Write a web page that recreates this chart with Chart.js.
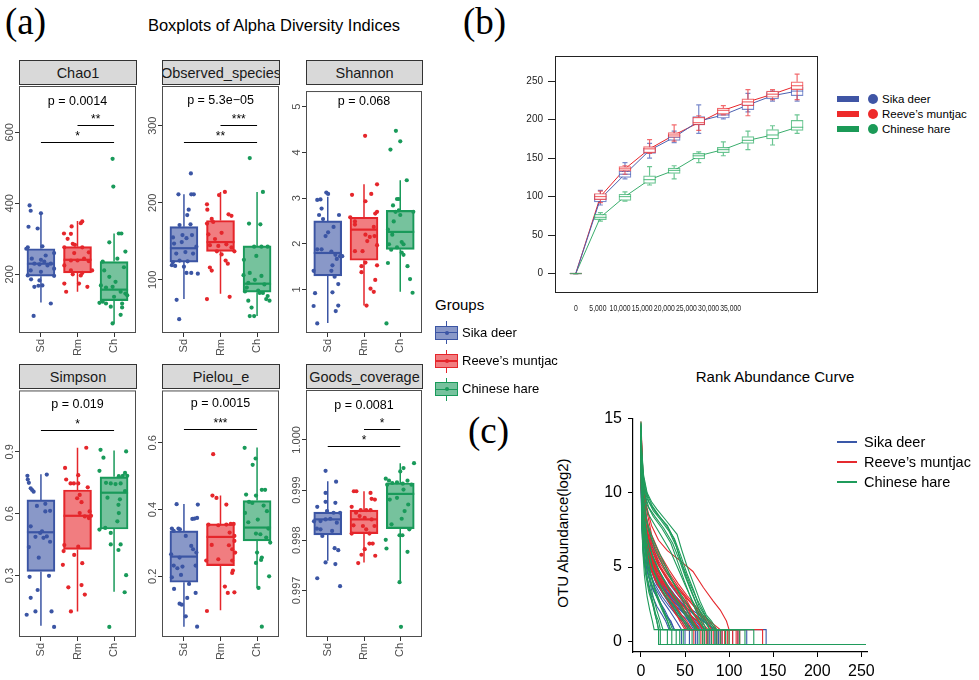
<!DOCTYPE html>
<html>
<head>
<meta charset="utf-8">
<title>Alpha diversity, rarefaction and rank abundance</title>
<script src="https://cdn.jsdelivr.net/npm/chart.js@4.4.1/dist/chart.umd.min.js"></script>
<style>
  html, body { margin: 0; padding: 0; background: #fff; }
  body { position: relative; width: 979px; height: 680px; overflow: hidden;
         font-family: "Liberation Sans", Arial, sans-serif; color: #000; }
  canvas { position: absolute; }
  .txt { position: absolute; white-space: nowrap; }
  .tag { position: absolute; font-family: "Liberation Serif", "Times New Roman", serif;
         font-size: 37px; line-height: 37px; }
  .strip { position: absolute; height: 25px; box-sizing: border-box; background: #d9d9d9;
           border: 1px solid #333; overflow: hidden; white-space: nowrap;
           display: flex; justify-content: center; align-items: center;
           font-size: 14.5px; color: #1a1a1a; }
  .sw { position: absolute; }
</style>
</head>
<body>
<div class="tag" style="left:5px;top:3px">(a)</div>
<div class="tag" style="left:463px;top:3px">(b)</div>
<div class="tag" style="left:468px;top:412px">(c)</div>
<div class="txt" style="left:74px;top:15px;width:400px;text-align:center;font-size:16.5px;line-height:20px">Boxplots of Alpha Diversity Indices</div>
<div class="txt" style="left:435px;top:296px;font-size:15px;line-height:18px">Groups</div>
<div class="txt" style="left:675px;top:368px;width:200px;text-align:center;font-size:15px;line-height:18px">Rank Abundance Curve</div>
<div class="txt" style="left:563px;top:533px;font-size:15px;line-height:18px;transform:translate(-50%,-50%) rotate(-90deg)">OTU Abundance(log2)</div>

<script>
// ---------- shared groups ----------
const groups = ['Sd', 'Rm', 'Ch'];
const groupNames = ['Sika deer', "Reeve\u2019s muntjac", 'Chinese hare'];
const lineColors = ['#3b55a4', '#e5262b', '#199a5a'];
const fillColors = ['rgba(59,83,163,0.6)', 'rgba(232,38,44,0.6)', 'rgba(26,154,91,0.6)'];

// ---------- (a) alpha diversity: per-sample values and horizontal jitter ----------
const chao1Sd  = [394,379,372,334,329,279,276,272,260,253,244,241,236,230,230,228,225,216,211,207,197,196,186,183,168,169,165,118,83];
const chao1SdX = [-0.31,-0.28,0.00,-0.34,-0.09,0.04,-0.36,-0.40,0.36,0.13,-0.25,0.00,0.09,0.27,-0.18,-0.04,0.18,0.36,-0.28,0.00,-0.36,0.36,-0.27,-0.04,-0.07,0.04,-0.18,0.27,-0.20];
const chao1Rm  = [349,344,335,314,315,300,286,283,276,276,262,260,244,239,239,237,225,211,211,204,197,200,174,151,165,174];
const chao1RmX = [0.13,0.09,-0.16,-0.18,-0.37,-0.27,-0.13,-0.07,-0.36,0.13,0.31,-0.09,0.18,0.00,-0.18,0.31,-0.36,0.40,-0.18,0.13,0.09,-0.13,-0.36,-0.31,0.27,0.04];
const chao1Ch  = [525,447,315,315,290,264,244,236,220,211,193,179,169,165,163,151,146,141,137,123,118,118,120,109,107,86,62];
const chao1ChX = [-0.04,-0.02,0.13,0.20,-0.13,0.31,0.09,-0.31,0.27,-0.27,-0.13,0.04,-0.36,-0.04,-0.22,0.18,0.31,0.36,0.00,-0.31,-0.22,0.22,-0.40,-0.09,0.22,0.18,-0.04];

const obsSd  = [238,211,211,211,191,184,171,172,158,158,155,154,147,149,143,136,134,134,125,124,123,119,117,118,109,109,108,74,49];
const obsSdX = [0.19,-0.15,0.20,0.27,0.13,0.09,-0.12,0.18,-0.04,0.22,-0.30,0.07,-0.27,-0.06,0.34,0.04,-0.21,0.25,-0.12,0.10,-0.30,-0.33,0.00,-0.24,0.20,0.07,0.38,-0.20,-0.13];
const obsRm  = [214,210,198,191,185,183,179,175,173,161,159,153,146,145,144,142,137,137,133,125,121,116,112,75,78];
const obsRmX = [0.12,-0.04,-0.37,-0.36,0.22,0.30,-0.24,-0.20,-0.37,0.03,-0.33,-0.15,0.16,-0.29,-0.06,0.30,0.38,-0.10,0.03,0.14,0.20,-0.29,-0.24,-0.37,0.25];
const obsCh  = [258,214,173,172,143,143,143,131,126,109,105,106,100,96,94,90,86,85,83,83,79,75,73,73,64,53,53];
const obsChX = [-0.20,0.16,-0.22,0.09,-0.08,0.12,0.29,-0.02,-0.36,-0.20,0.12,-0.37,-0.06,-0.24,0.20,-0.28,0.03,-0.33,0.16,0.07,0.29,0.25,0.34,-0.24,-0.15,-0.08,-0.20];

const shanSd  = [3.12,3.09,2.97,2.96,2.77,2.63,2.63,2.54,2.37,2.25,2.17,1.88,1.88,1.83,1.76,1.73,1.73,1.67,1.53,1.41,1.41,1.28,1.12,0.92,0.94,0.64,0.65,0.53,0.26];
const shanSdX = [-0.04,0.01,-0.20,-0.29,-0.17,-0.24,0.31,-0.13,0.16,0.01,-0.06,-0.29,-0.17,0.10,0.21,0.34,0.40,0.25,0.13,-0.39,0.10,0.19,0.29,-0.35,0.13,-0.39,0.29,0.22,-0.29];
const shanRm  = [4.36,3.30,3.07,3.09,2.93,2.66,2.70,2.58,2.49,2.42,2.37,2.20,2.17,2.15,2.06,1.84,1.84,1.97,1.59,1.51,1.53,1.38,1.21,1.02,0.95,0.65];
const shanRmX = [0.03,0.36,-0.33,0.20,0.04,0.31,0.36,-0.38,-0.25,-0.25,0.27,0.04,0.29,0.16,0.09,-0.25,-0.04,0.36,0.04,-0.07,0.36,-0.07,0.31,0.18,0.27,0.07];
const shanCh  = [4.47,4.24,4.06,3.39,2.98,2.98,2.84,2.70,2.70,2.73,2.63,2.49,2.31,2.20,2.04,1.99,1.99,1.92,1.87,1.81,1.76,1.58,1.51,1.23,0.93,0.26];
const shanChX = [-0.12,0.00,-0.27,0.18,-0.09,-0.04,-0.20,-0.13,0.36,-0.04,0.00,-0.18,-0.34,-0.22,0.04,-0.31,0.09,-0.09,-0.25,0.04,0.09,-0.34,0.20,0.27,0.34,-0.38];

const simpSd  = [0.784,0.766,0.750,0.790,0.723,0.715,0.707,0.648,0.638,0.611,0.614,0.539,0.515,0.507,0.490,0.488,0.483,0.464,0.438,0.387,0.294,0.299,0.230,0.192,0.110,0.126,0.126,0.051];
const simpSdX = [-0.37,-0.36,-0.33,0.16,-0.28,-0.24,-0.20,0.12,-0.11,0.12,0.25,-0.28,0.03,-0.02,0.16,-0.15,0.07,0.25,-0.33,-0.06,-0.31,0.22,-0.09,-0.28,-0.39,-0.15,0.29,0.36];
const simpRm  = [0.920,0.822,0.787,0.766,0.747,0.747,0.747,0.728,0.691,0.675,0.656,0.611,0.603,0.587,0.579,0.590,0.448,0.440,0.419,0.400,0.360,0.352,0.243,0.254,0.208,0.126];
const simpRmX = [0.24,-0.34,0.02,-0.31,-0.19,-0.10,0.02,0.28,0.06,-0.01,0.11,0.33,0.06,0.20,0.31,0.37,-0.36,0.02,-0.38,-0.09,0.13,-0.40,-0.25,0.11,0.20,-0.18];
const simpCh  = [0.910,0.902,0.872,0.808,0.798,0.784,0.784,0.782,0.750,0.747,0.744,0.747,0.710,0.678,0.670,0.643,0.603,0.563,0.531,0.523,0.507,0.451,0.451,0.424,0.302,0.219,0.051];
const simpChX = [-0.37,0.33,-0.29,-0.40,0.30,0.24,0.36,0.13,-0.22,-0.09,0.04,0.18,0.30,-0.18,0.16,0.12,0.13,0.09,-0.24,-0.40,-0.09,-0.09,0.18,0.12,0.33,0.29,-0.13];

const pielSd  = [0.416,0.415,0.372,0.373,0.375,0.343,0.343,0.336,0.341,0.321,0.291,0.281,0.271,0.266,0.256,0.232,0.224,0.229,0.232,0.204,0.197,0.177,0.162,0.150,0.135,0.118,0.115,0.080,0.049];
const pielSdX = [-0.20,0.38,0.23,0.29,0.36,-0.33,-0.15,-0.28,-0.11,0.05,0.20,0.25,0.34,-0.35,-0.12,-0.28,-0.18,-0.04,0.32,-0.08,-0.33,0.14,-0.27,0.32,0.09,-0.12,-0.06,0.05,0.36];
const pielRm  = [0.566,0.442,0.435,0.415,0.357,0.357,0.355,0.353,0.355,0.331,0.321,0.306,0.294,0.293,0.281,0.271,0.247,0.247,0.251,0.217,0.210,0.169,0.150,0.152,0.096];
const pielRmX = [-0.20,-0.22,-0.11,0.16,0.28,0.36,0.16,-0.06,-0.33,0.25,0.38,0.38,-0.24,0.23,0.32,0.40,-0.39,0.32,-0.06,0.34,0.32,0.12,0.20,0.38,-0.37];
const pielCh  = [0.585,0.553,0.534,0.442,0.445,0.459,0.459,0.423,0.390,0.420,0.412,0.395,0.370,0.362,0.343,0.328,0.326,0.316,0.301,0.271,0.256,0.249,0.240,0.200,0.165,0.049];
const pielChX = [-0.34,-0.04,-0.12,-0.03,-0.30,0.13,0.22,-0.22,-0.33,-0.13,0.18,0.27,0.02,-0.24,0.31,-0.03,0.09,0.25,0.36,0.00,0.13,0.11,-0.03,0.33,0.04,0.13];

const goodSd  = [0.999384,0.999167,0.998943,0.998765,0.998666,0.998745,0.998580,0.998547,0.998376,0.998382,0.998415,0.998428,0.998349,0.998547,0.998218,0.998185,0.998086,0.997842,0.997802,0.997558,0.997525,0.997242,0.997084,0.998231];
const goodSdX = [-0.06,0.23,-0.06,-0.06,-0.29,0.21,-0.02,0.16,-0.38,-0.20,-0.06,0.07,0.25,0.34,-0.20,0.12,-0.15,0.19,0.29,-0.06,0.21,-0.29,0.34,-0.30];
const goodRm  = [0.998976,0.998976,0.998943,0.998824,0.998811,0.998666,0.998600,0.998600,0.998600,0.998547,0.998481,0.998448,0.998415,0.998297,0.998283,0.998283,0.998132,0.998132,0.997934,0.997934,0.997822,0.997710,0.997690,0.997545,0.998218];
const goodRmX = [-0.28,-0.21,0.18,0.21,0.30,-0.34,-0.09,0.06,0.18,-0.22,-0.12,0.02,0.21,-0.29,-0.03,0.29,-0.34,0.15,0.15,0.24,0.02,-0.07,0.31,-0.16,0.06];
const goodCh  = [0.999536,0.999437,0.999371,0.999226,0.999187,0.999154,0.999127,0.999187,0.999140,0.999107,0.999107,0.999009,0.998811,0.998844,0.998712,0.998580,0.998428,0.998316,0.998218,0.998099,0.998099,0.998007,0.997835,0.997769,0.997163,0.996273];
const goodChX = [0.38,0.09,0.00,-0.40,-0.31,-0.09,0.07,0.20,-0.22,-0.36,0.31,0.09,-0.29,-0.09,0.22,0.12,0.04,-0.24,0.25,-0.02,0.06,-0.40,-0.38,0.20,-0.02,0.02];

// box statistics per group: [lower whisker, Q1, median, Q3, upper whisker]
const chao1Box = [[121,195,230,272,376],[151,204,241,278,350],[62,126,157,236,315]];
const obsBox   = [[75,123,141,169,211],[82,137,149,177,214],[53,84,95,144,214]];
const shanBox  = [[0.27,1.30,1.80,2.50,3.03],[0.65,1.64,2.31,2.58,3.30],[0.95,1.88,2.26,2.73,3.39]];
const simpBox  = [[0.056,0.320,0.510,0.667,0.792],[0.126,0.427,0.590,0.715,0.920],[0.222,0.526,0.702,0.779,0.907]];
const pielBox  = [[0.049,0.182,0.259,0.336,0.417],[0.098,0.232,0.318,0.357,0.442],[0.165,0.306,0.346,0.427,0.586]];
const goodBox  = [[0.997591,0.998105,0.998415,0.998560,0.999173],[0.997558,0.998132,0.998415,0.998600,0.998976],[0.997163,0.998231,0.998923,0.999140,0.999536]];

// y-axis ticks per index
const chao1Ticks = [200,400,600];            const chao1TickLabels = ['200','400','600'];
const obsTicks   = [100,200,300];            const obsTickLabels   = ['100','200','300'];
const shanTicks  = [1,2,3,4,5];              const shanTickLabels  = ['1','2','3','4','5'];
const simpTicks  = [0.3,0.6,0.9];            const simpTickLabels  = ['0.3','0.6','0.9'];
const pielTicks  = [0.2,0.4,0.6];            const pielTickLabels  = ['0.2','0.4','0.6'];
const goodTicks  = [0.997,0.998,0.999,1.0];  const goodTickLabels  = ['0.997','0.998','0.999','1.000'];

// Kruskal-Wallis label and pairwise brackets: [from group, to group, bracket height, stars]
const pLabels = ['p = 0.0014', 'p = 5.3e\u221205', 'p = 0.068', 'p = 0.019', 'p = 0.0015', 'p = 0.0081'];
const pLabelY = [686, 332, 5.11, 1.131, 0.719, 1.00069];
const chao1Sig = [[1,3,572,'*'],[2,3,619,'**']];
const obsSig   = [[1,3,279.4,'**'],[2,3,300.9,'***']];
const shanSig  = [];
const simpSig  = [[1,3,1.006,'*']];
const pielSig  = [[1,3,0.640,'***']];
const goodSig  = [[1,3,0.999879,'*'],[2,3,1.000208,'*']];

// ---------- (b) rarefaction ----------
const depths = [0,5556,11111,16667,22222,27778,33333,38889,44444,50000];
const depthTicks = [0,5000,10000,15000,20000,25000,30000,35000];
const richTicks = [0,50,100,150,200,250];
const sikaRare  = [[0,0,0,0,0],[89,93,97,103,108],[123,125,129,133,144],[150,156,160,163,169],[170,173,177,180,185],[182,193,198,204,219],[201,202,206,210,213],[210,213,219,223,234],[224,227,231,236,237],[224,231,237,242,246]];
const reeveRare = [[0,0,0,0,0],[92,96,100,104,107],[129,133,136,139,140],[156,157,162,165,174],[172,177,180,183,193],[186,193,196,203,205],[206,207,212,215,218],[205,218,223,227,239],[226,229,233,237,239],[226,239,244,249,259]];
const hareRare  = [[0,0,0,0,0],[68,70,73,77,79],[94,95,100,103,106],[115,117,122,127,139],[123,130,134,137,140],[144,149,153,156,158],[153,157,161,164,171],[161,169,173,178,185],[167,175,180,187,192],[182,186,190,199,206]];

// ---------- (c) rank abundance: per-sample curves as [rank, log2 abundance, ...] ----------
const floorLevel = -0.22;
const lastRank = 255;
const sikaCurves = [
  [0,14.3, 2,10.8, 5,8.0, 10,6.2, 20,4.8, 30,3.8, 40,3.0, 50,2.36, 60,1.78, 70,1.36, 85,0.78, 142,0.78],
  [0,13.5, 2,9.5, 5,7.2, 10,5.6, 20,4.2, 30,3.3, 40,2.6, 52,1.78, 64,1.36, 74,0.78, 96,0.78],
  [0,12.8, 1,9.2, 4,7.0, 10,5.0, 18,3.8, 28,3.0, 38,2.36, 46,1.78, 55,1.36, 62,0.78, 88,0.78],
  [0,14.0, 2,10.0, 6,7.6, 12,5.8, 22,4.4, 32,3.4, 44,2.58, 55,2.1, 62,1.78, 72,1.36, 82,0.78, 110,0.78],
  [0,12.0, 1,8.5, 4,6.4, 9,4.8, 16,3.6, 24,2.78, 32,2.1, 40,1.36, 46,0.78, 70,0.78],
  [0,11.5, 1,8.0, 3,6.0, 8,4.5, 14,3.4, 22,2.58, 28,1.78, 34,1.36, 38,0.78, 55,0.78],
  [0,13.0, 2,9.0, 5,6.8, 11,5.2, 20,4.0, 30,3.1, 42,2.36, 50,1.78, 58,1.36, 66,0.78, 80,0.78],
  [0,14.6, 2,11.0, 6,8.4, 12,6.5, 22,5.0, 32,3.9, 42,3.1, 50,2.58, 58,2.1, 66,1.78, 74,1.36, 82,0.78, 104,0.78],
  [0,12.5, 1,9.0, 4,6.6, 9,5.2, 17,4.0, 26,3.1, 34,2.36, 42,1.78, 48,1.36, 54,0.78, 75,0.78],
  [0,11.0, 1,7.6, 3,5.6, 7,4.2, 12,3.2, 18,2.36, 24,1.78, 28,1.36, 32,0.78, 46,0.78],
  [0,13.8, 2,10.2, 5,7.8, 10,6.0, 18,4.6, 28,3.6, 38,2.78, 48,2.1, 56,1.78, 62,1.36, 70,0.78, 92,0.78],
  [0,12.2, 1,8.8, 4,6.8, 9,5.4, 16,4.2, 25,3.3, 34,2.58, 44,1.78, 50,1.36, 58,0.78, 64,0.78],
  [0,14.0, 2,9.8, 6,7.2, 12,5.4, 20,4.1, 30,3.2, 40,2.36, 50,1.78, 56,1.36, 64,0.78, 78,0.78],
  [0,13.2, 1,9.6, 4,7.4, 9,5.8, 16,4.6, 24,3.7, 34,2.95, 44,2.36, 52,1.78, 60,1.36, 68,0.78, 86,0.78],
  [0,12.7, 1,9.0, 3,6.8, 8,5.0, 15,3.9, 24,3.0, 32,2.36, 40,1.78, 46,1.36, 52,0.78, 62,0.78],
  [0,14.1, 2,10.4, 5,7.9, 11,6.1, 20,4.7, 30,3.7, 40,2.95, 48,2.36, 56,1.78, 64,1.36, 72,0.78, 120,0.78],
  [0,11.8, 1,8.2, 3,6.2, 7,4.7, 13,3.6, 20,2.78, 27,2.1, 33,1.36, 38,0.78, 50,0.78],
  [0,13.6, 2,9.9, 5,7.5, 10,5.9, 19,4.5, 29,3.5, 39,2.78, 47,2.1, 54,1.36, 60,0.78, 84,0.78]
];
const reeveCurves = [
  [0,14.5, 2,11.5, 6,9.2, 12,7.8, 20,6.8, 30,6.1, 44,5.45, 59,4.7, 71,3.6, 82,2.7, 90,2.1, 97,1.36, 100,0.78, 110,0.78],
  [0,14.0, 2,10.6, 6,8.2, 12,6.6, 20,5.4, 30,4.5, 40,3.7, 50,3.0, 60,2.36, 68,1.78, 76,1.36, 86,0.78, 112,0.78],
  [0,13.2, 2,9.8, 5,7.6, 10,6.0, 18,4.8, 28,3.9, 38,3.1, 48,2.36, 56,1.78, 64,1.36, 72,0.78, 104,0.78],
  [0,12.6, 1,9.2, 4,7.2, 10,5.6, 18,4.6, 28,3.7, 36,2.95, 44,2.36, 52,1.78, 58,1.36, 64,0.78, 95,0.78],
  [0,14.2, 2,10.8, 6,8.4, 12,6.9, 22,5.6, 32,4.6, 42,3.7, 52,2.95, 60,2.36, 66,1.78, 74,1.36, 80,0.78, 100,0.78],
  [0,11.8, 1,8.6, 4,6.6, 9,5.2, 16,4.1, 24,3.3, 32,2.58, 40,1.78, 46,1.36, 52,0.78, 82,0.78],
  [0,13.6, 2,10.0, 6,7.8, 12,6.3, 20,5.1, 30,4.2, 40,3.4, 48,2.78, 56,2.1, 62,1.78, 68,1.36, 76,0.78, 90,0.78],
  [0,12.9, 1,9.4, 4,7.4, 10,5.8, 18,4.4, 26,3.5, 34,2.78, 42,2.1, 48,1.36, 56,0.78, 70,0.78],
  [0,14.8, 2,11.6, 6,9.0, 12,7.2, 22,5.8, 32,4.8, 42,3.9, 52,3.1, 62,2.36, 70,1.78, 78,1.36, 90,0.78, 138,0.78],
  [0,12.0, 1,8.8, 4,6.9, 9,5.5, 16,4.4, 24,3.6, 32,2.95, 40,2.36, 46,1.78, 52,1.36, 58,0.78, 76,0.78],
  [0,13.9, 2,10.4, 5,8.0, 10,6.5, 18,5.3, 28,4.3, 38,3.5, 46,2.78, 54,2.1, 60,1.36, 66,0.78, 86,0.78],
  [0,12.4, 1,9.0, 4,7.0, 9,5.6, 16,4.6, 24,3.9, 34,3.2, 44,2.58, 52,1.78, 60,1.36, 66,0.78, 74,0.78],
  [0,13.4, 2,9.6, 5,7.4, 11,5.9, 20,4.7, 30,3.8, 38,3.0, 46,2.36, 52,1.78, 58,1.36, 62,0.78, 68,0.78],
  [0,13.0, 1,9.7, 4,7.6, 9,6.1, 17,4.9, 26,4.0, 35,3.2, 44,2.58, 52,1.78, 58,1.36, 64,0.78, 92,0.78],
  [0,14.3, 2,10.9, 5,8.5, 11,6.9, 20,5.6, 30,4.6, 40,3.7, 50,2.95, 58,2.1, 64,1.36, 70,0.78, 108,0.78],
  [0,12.3, 1,8.9, 3,6.9, 8,5.5, 15,4.4, 23,3.5, 31,2.78, 38,2.1, 44,1.36, 50,0.78, 60,0.78],
  [0,13.7, 2,10.3, 5,8.0, 11,6.4, 20,5.2, 30,4.3, 40,3.5, 50,2.78, 58,2.1, 66,1.36, 72,0.78, 98,0.78],
  [0,12.7, 1,9.3, 4,7.3, 9,5.9, 17,4.7, 26,3.8, 36,3.0, 45,2.36, 52,1.78, 57,1.36, 62,0.78, 80,0.78]
];
const hareCurves = [
  [0,14.8, 1,12.8, 3,11.2, 7,10.0, 12,9.4, 18,8.9, 29,8.1, 41,7.2, 46,6.2, 52,5.1, 59,4.0, 67,2.7, 74,1.78, 80,1.36, 86,0.78, 128,0.78],
  [0,14.4, 1,12.2, 3,10.6, 7,9.6, 14,8.8, 22,8.2, 32,7.4, 40,6.4, 48,5.0, 56,3.8, 64,2.78, 70,2.1, 76,1.36, 82,0.78, 112,0.78],
  [0,13.8, 1,11.6, 4,10.0, 9,9.0, 16,8.4, 26,7.6, 36,6.6, 44,5.4, 50,4.4, 58,3.2, 64,2.36, 70,1.78, 74,1.36, 78,0.78, 100,0.78],
  [0,14.6, 1,12.0, 4,10.4, 9,9.4, 18,8.6, 30,7.8, 38,6.8, 44,5.6, 52,4.2, 60,3.0, 66,2.1, 72,1.36, 78,0.78, 96,0.78],
  [0,14.0, 1,11.4, 3,9.8, 8,8.6, 16,7.8, 24,7.0, 34,6.0, 42,4.9, 50,3.8, 58,2.78, 64,2.1, 70,1.36, 74,0.78, 90,0.78],
  [0,13.6, 1,10.8, 3,8.8, 7,7.0, 14,5.6, 22,4.6, 30,3.7, 38,2.95, 46,2.36, 52,1.78, 58,1.36, 64,0.78, 80,0.78],
  [0,13.0, 1,10.2, 3,8.0, 7,6.2, 14,4.8, 22,3.8, 30,3.0, 38,2.36, 44,1.78, 50,1.36, 56,0.78, 72,0.78],
  [0,14.2, 1,11.0, 3,9.2, 8,7.6, 16,6.2, 26,5.0, 36,4.0, 46,3.1, 54,2.36, 60,1.78, 66,1.36, 72,0.78, 86,0.78],
  [0,12.5, 1,9.0, 2,7.0, 5,5.0, 9,3.6, 13,2.58, 16,1.78, 18,1.36, 20,0.78, 22,0.78],
  [0,13.2, 1,9.6, 3,7.2, 6,5.4, 10,4.0, 14,2.95, 18,2.1, 22,1.36, 25,0.78, 40,0.78],
  [0,12.0, 1,8.4, 2,6.4, 5,4.6, 9,3.3, 14,2.36, 18,1.36, 20,0.78, 30,0.78],
  [0,13.9, 1,10.4, 3,8.0, 6,6.2, 11,4.6, 16,3.5, 22,2.58, 28,1.78, 32,1.36, 36,0.78, 58,0.78],
  [0,12.8, 1,9.4, 3,7.0, 7,5.2, 12,3.9, 18,2.95, 24,2.1, 30,1.36, 34,0.78, 48,0.78],
  [0,14.5, 1,11.2, 3,8.6, 7,6.6, 13,5.0, 20,3.9, 28,3.0, 36,2.36, 42,1.78, 48,1.36, 54,0.78, 66,0.78],
  [0,11.6, 1,8.2, 2,6.2, 4,4.4, 7,3.0, 10,2.1, 13,1.36, 15,0.78, 20,0.78],
  [0,14.7, 1,12.6, 3,11.0, 7,9.9, 13,9.1, 20,8.5, 30,7.7, 38,6.9, 45,5.8, 52,4.6, 60,3.4, 66,2.36, 72,1.78, 78,1.36, 84,0.78, 118,0.78],
  [0,13.4, 1,10.6, 3,8.6, 7,7.0, 13,5.8, 20,4.8, 28,3.9, 36,3.1, 44,2.36, 50,1.78, 56,1.36, 62,0.78, 76,0.78],
  [0,12.2, 1,8.8, 2,6.8, 5,5.0, 9,3.7, 13,2.78, 17,1.78, 20,1.36, 22,0.78, 35,0.78],
  [0,14.1, 1,11.6, 3,9.6, 7,8.0, 14,6.8, 22,5.8, 30,4.8, 38,3.8, 46,2.95, 52,2.1, 58,1.36, 64,0.78, 70,0.78],
  [0,13.1, 1,10.0, 3,7.8, 6,6.0, 11,4.5, 16,3.4, 22,2.58, 27,1.78, 30,1.36, 33,0.78, 44,0.78],
  [0,14.3, 1,12.0, 3,10.3, 7,9.2, 14,8.4, 24,7.6, 34,6.6, 42,5.3, 49,4.1, 56,3.0, 62,2.1, 68,1.36, 72,0.78, 84,0.78]
];

// ---------- helpers ----------
const SANS = '"Liberation Sans", Arial, sans-serif';
const measureCtx = document.createElement('canvas').getContext('2d');
function textWidth(str, font) {
  measureCtx.font = font.size + 'px ' + font.family;
  return measureCtx.measureText(str).width;
}
function addCanvas(left, top, w, h) {
  const cv = document.createElement('canvas');
  cv.width = w; cv.height = h;
  cv.style.left = left + 'px'; cv.style.top = top + 'px';
  cv.style.width = w + 'px'; cv.style.height = h + 'px';
  document.body.appendChild(cv);
  return cv;
}
function addDiv(css, text) {
  const d = document.createElement('div');
  d.className = 'sw';
  d.style.cssText = css;
  if (text !== undefined) d.textContent = text;
  document.body.appendChild(d);
  return d;
}
const baseOptions = {
  responsive: false, animation: false, devicePixelRatio: 1, events: [],
  plugins: { legend: { display: false }, tooltip: { enabled: false } }
};

// ---------- (a) facets ----------
const facetList = [
  { name: 'Chao1',            left: 19,  top: 84,  width: 118, min: 35,       max: 730,      values: [chao1Sd, chao1Rm, chao1Ch], jitter: [chao1SdX, chao1RmX, chao1ChX], box: chao1Box, ticks: chao1Ticks, tickLabels: chao1TickLabels, sig: chao1Sig },
  { name: 'Observed_species', left: 162, top: 84,  width: 118, min: 31,       max: 351.5,    values: [obsSd, obsRm, obsCh],       jitter: [obsSdX, obsRmX, obsChX],       box: obsBox,   ticks: obsTicks,   tickLabels: obsTickLabels,   sig: obsSig },
  { name: 'Shannon',          left: 306, top: 84,  width: 117, min: 0.05,     max: 5.34,     values: [shanSd, shanRm, shanCh],    jitter: [shanSdX, shanRmX, shanChX],    box: shanBox,  ticks: shanTicks,  tickLabels: shanTickLabels,  sig: shanSig },
  { name: 'Simpson',          left: 19,  top: 388, width: 118, min: 0.002,    max: 1.198,    values: [simpSd, simpRm, simpCh],    jitter: [simpSdX, simpRmX, simpChX],    box: simpBox,  ticks: simpTicks,  tickLabels: simpTickLabels,  sig: simpSig },
  { name: 'Pielou_e',         left: 162, top: 388, width: 118, min: 0.018,    max: 0.757,    values: [pielSd, pielRm, pielCh],    jitter: [pielSdX, pielRmX, pielChX],    box: pielBox,  ticks: pielTicks,  tickLabels: pielTickLabels,  sig: pielSig },
  { name: 'Goods_coverage',   left: 306, top: 388, width: 117, min: 0.996071, max: 1.000994, values: [goodSd, goodRm, goodCh],    jitter: [goodSdX, goodRmX, goodChX],    box: goodBox,  ticks: goodTicks,  tickLabels: goodTickLabels,  sig: goodSig }
];
const FACET_H = 249;

// whiskers under the boxes, medians over them, brackets and frame on top
function facetDecor(f, pText, pY) {
  return {
    id: 'facetDecor',
    beforeDatasetDraw(chart, args) {
      if (args.meta.type !== 'bar') return;
      const { ctx } = chart; const x = chart.scales.x, y = chart.scales.y;
      ctx.save();
      ctx.lineWidth = 1.5;
      f.box.forEach((s, g) => {
        const px = x.getPixelForValue(g + 1);
        ctx.strokeStyle = lineColors[g];
        ctx.beginPath();
        ctx.moveTo(px, y.getPixelForValue(s[0])); ctx.lineTo(px, y.getPixelForValue(s[1]));
        ctx.moveTo(px, y.getPixelForValue(s[3])); ctx.lineTo(px, y.getPixelForValue(s[4]));
        ctx.stroke();
      });
      ctx.restore();
    },
    afterDatasetDraw(chart, args) {
      if (args.meta.type !== 'bar') return;
      const { ctx } = chart; const y = chart.scales.y;
      ctx.save();
      ctx.lineWidth = 2.2;
      args.meta.data.forEach((bar, g) => {
        const p = bar.getProps(['x', 'width'], true);
        const py = y.getPixelForValue(f.box[g][2]);
        ctx.strokeStyle = lineColors[g];
        ctx.beginPath(); ctx.moveTo(p.x - p.width / 2, py); ctx.lineTo(p.x + p.width / 2, py); ctx.stroke();
      });
      ctx.restore();
    },
    afterDatasetsDraw(chart) {
      const { ctx } = chart; const x = chart.scales.x, y = chart.scales.y;
      ctx.save();
      ctx.fillStyle = '#000'; ctx.textAlign = 'center';
      ctx.font = '12.5px ' + SANS; ctx.textBaseline = 'middle';
      ctx.fillText(pText, x.getPixelForValue(2), y.getPixelForValue(pY));
      ctx.strokeStyle = '#000'; ctx.lineWidth = 1.2;
      ctx.font = '12px ' + SANS; ctx.textBaseline = 'alphabetic';
      f.sig.forEach(([a, b, v, lab]) => {
        const py = Math.round(y.getPixelForValue(v)) + 0.5;
        ctx.beginPath(); ctx.moveTo(x.getPixelForValue(a), py); ctx.lineTo(x.getPixelForValue(b), py); ctx.stroke();
        ctx.fillText(lab, x.getPixelForValue((a + b) / 2), py - 2.5);
      });
      ctx.restore();
    },
    afterDraw(chart) {
      const { ctx, chartArea: ca } = chart;
      ctx.save();
      ctx.strokeStyle = '#4d4d4d'; ctx.lineWidth = 1;
      ctx.strokeRect(ca.left + 0.5, ca.top + 0.5, ca.right - ca.left - 1, ca.bottom - ca.top - 1);
      ctx.restore();
    }
  };
}

function makeFacet(f, idx) {
  const yW = 19, xH = 26, padT = 2, padR = 3, tl = 4;
  const cv = addCanvas(f.left - yW, f.top - padT, f.width + yW + padR, FACET_H + padT + xH);
  const strip = document.createElement('div');
  strip.className = 'strip';
  strip.style.left = f.left + 'px'; strip.style.top = (f.top - 24) + 'px'; strip.style.width = f.width + 'px';
  const span = document.createElement('span'); span.textContent = f.name; strip.appendChild(span);
  document.body.appendChild(strip);

  const tickFont = { family: SANS, size: 11 };
  const widest = Math.max(...f.tickLabels.map(t => textWidth(t, tickFont)));
  const yPad = 9.5 - tl - widest / 2;
  const gridOpts = { drawOnChartArea: false, drawTicks: true, tickLength: tl, color: '#333', tickColor: '#333', lineWidth: 1, offset: false };

  const datasets = groups.map((g, gi) => ({
    type: 'scatter', label: g,
    data: f.values[gi].map((v, k) => ({ x: gi + 1 + f.jitter[gi][k], y: v })),
    pointRadius: 2.1, pointBackgroundColor: lineColors[gi], pointBorderWidth: 0, order: 0
  }));
  datasets.push({
    type: 'bar', label: 'box',
    data: f.box.map((s, gi) => ({ x: gi + 1, y: [s[1], s[3]] })),
    backgroundColor: fillColors, borderColor: lineColors, borderWidth: 1.5,
    borderSkipped: false, barThickness: 28, order: 1
  });

  new Chart(cv, {
    type: 'scatter',
    data: { datasets },
    options: Object.assign({}, baseOptions, {
      layout: { padding: { top: padT, right: padR, left: 0, bottom: 0 } },
      scales: {
        x: {
          type: 'linear', min: 0.4, max: 3.6, offset: false,
          afterBuildTicks: s => { s.ticks = groups.map((g, i) => ({ value: i + 1 })); },
          afterFit: s => { s.height = xH; },
          ticks: { callback: v => groups[Math.round(v) - 1], font: tickFont, color: '#4d4d4d', padding: 2,
                   minRotation: 90, maxRotation: 90, autoSkip: false },
          grid: gridOpts, border: { display: false }
        },
        y: {
          type: 'linear', min: f.min, max: f.max, beginAtZero: false,
          afterBuildTicks: s => { s.ticks = f.ticks.map(v => ({ value: v })); },
          afterFit: s => { s.width = yW; },
          ticks: { callback: (v, i) => f.tickLabels[i], font: tickFont, color: '#4d4d4d', padding: yPad,
                   minRotation: 90, maxRotation: 90, crossAlign: 'center', autoSkip: false },
          grid: gridOpts, border: { display: false }
        }
      }
    }),
    plugins: [facetDecor(f, pLabels[idx], pLabelY[idx])]
  });
}
facetList.forEach(makeFacet);

// legend for (a)
const legendRowsA = [332.7, 361, 389.3];
groupNames.forEach((name, gi) => {
  const cy = legendRowsA[gi], c = lineColors[gi];
  addDiv(`left:445.75px;top:${cy - 11.5}px;width:1.5px;height:4.5px;background:${c}`);
  addDiv(`left:445.75px;top:${cy + 7}px;width:1.5px;height:4.5px;background:${c}`);
  addDiv(`left:435px;top:${cy - 7}px;width:23px;height:14px;box-sizing:border-box;border:1.5px solid ${c};background:${fillColors[gi]}`);
  addDiv(`left:435px;top:${cy - 0.75}px;width:23px;height:1.5px;background:${c}`);
  addDiv(`left:444.5px;top:${cy - 2}px;width:4px;height:4px;border-radius:50%;background:${c}`);
  addDiv(`left:462px;top:${cy - 8}px;font-size:13px;line-height:16px;white-space:nowrap`, name);
});

// ---------- (b) rarefaction curves ----------
const rareLine = ['#4b60b0', '#e8262b', '#3aad6c'];
const rareBoxLine = ['rgba(75,98,185,0.75)', 'rgba(238,58,62,0.75)', 'rgba(58,178,110,0.75)'];
const rareStats = [sikaRare, reeveRare, hareRare];

const rareDecor = {
  id: 'rareDecor',
  beforeDatasetDraw(chart, args) {
    const ds = chart.data.datasets[args.index];
    if (!ds.stats) return;
    const { ctx } = chart; const x = chart.scales.x, y = chart.scales.y;
    ctx.save(); ctx.strokeStyle = ds.borderColor; ctx.lineWidth = 1.2;
    ds.stats.forEach((s, i) => {
      const px = x.getPixelForValue(depths[i]);
      const yl = y.getPixelForValue(s[0]), yh = y.getPixelForValue(s[4]);
      ctx.beginPath();
      ctx.moveTo(px, yl); ctx.lineTo(px, y.getPixelForValue(s[1]));
      ctx.moveTo(px, y.getPixelForValue(s[3])); ctx.lineTo(px, yh);
      ctx.moveTo(px - 2.5, yl); ctx.lineTo(px + 2.5, yl);
      ctx.moveTo(px - 2.5, yh); ctx.lineTo(px + 2.5, yh);
      ctx.stroke();
    });
    ctx.restore();
  },
  afterDatasetDraw(chart, args) {
    const ds = chart.data.datasets[args.index];
    if (!ds.stats) return;
    const { ctx } = chart; const y = chart.scales.y;
    ctx.save(); ctx.strokeStyle = ds.borderColor; ctx.lineWidth = 1.2;
    args.meta.data.forEach((bar, i) => {
      const p = bar.getProps(['x', 'width'], true);
      const py = y.getPixelForValue(ds.stats[i][2]);
      ctx.beginPath(); ctx.moveTo(p.x - p.width / 2, py); ctx.lineTo(p.x + p.width / 2, py); ctx.stroke();
    });
    ctx.restore();
  },
  afterDraw(chart) {
    const { ctx, chartArea: ca } = chart;
    ctx.save(); ctx.strokeStyle = '#222'; ctx.lineWidth = 1;
    ctx.strokeRect(ca.left + 0.5, ca.top + 0.5, ca.right - ca.left - 1, ca.bottom - ca.top - 1);
    // depth labels: the axis's own ticks, set in a horizontally condensed face
    const xs = chart.scales.x;
    ctx.fillStyle = '#222'; ctx.font = '9.5px ' + SANS;
    ctx.textAlign = 'center'; ctx.textBaseline = 'middle';
    xs.ticks.forEach(t => {
      ctx.save();
      ctx.translate(xs.getPixelForValue(t.value), ca.bottom + 15);
      ctx.scale(0.72, 1);
      ctx.fillText(t.label, 0, 0);
      ctx.restore();
    });
    ctx.restore();
  }
};

(function makeRarefaction() {
  const cv = addCanvas(520, 45, 303, 270);
  const datasets = [];
  rareStats.forEach((st, gi) => {
    datasets.push({
      type: 'line', label: groupNames[gi] + ' median',
      data: depths.map((d, i) => ({ x: d, y: st[i][2] })),
      borderColor: rareLine[gi], borderWidth: 1, pointRadius: 0, tension: 0, fill: false, order: 10
    });
  });
  rareStats.forEach((st, gi) => {
    datasets.push({
      type: 'bar', label: groupNames[gi],
      data: depths.map((d, i) => ({ x: d, y: [st[i][1], st[i][3]] })),
      stats: st,
      backgroundColor: '#ffffff', borderColor: rareBoxLine[gi], borderWidth: 1.2,
      borderSkipped: false, barThickness: 12, grouped: false, order: 5 - gi
    });
  });
  new Chart(cv, {
    type: 'scatter',
    data: { datasets },
    options: Object.assign({}, baseOptions, {
      layout: { padding: { top: 5, right: 5, left: 0, bottom: 0 } },
      scales: {
        x: {
          type: 'linear', min: -4694, max: 54717, offset: false,
          afterBuildTicks: s => { s.ticks = depthTicks.map(v => ({ value: v })); },
          afterFit: s => { s.height = 22; },
          ticks: { display: false, callback: v => v.toLocaleString('en-US'), autoSkip: false },
          grid: { drawOnChartArea: false, drawTicks: false, offset: false }, border: { display: false }
        },
        y: {
          type: 'linear', min: -25.3, max: 282.6, beginAtZero: false,
          afterBuildTicks: s => { s.ticks = richTicks.map(v => ({ value: v })); },
          afterFit: s => { s.width = 35; },
          ticks: { callback: v => String(v), font: { family: SANS, size: 10 }, color: '#222', padding: 5, autoSkip: false },
          grid: { drawOnChartArea: false, drawTicks: true, tickLength: 7, color: '#222', tickColor: '#222' },
          border: { display: false }
        }
      }
    }),
    plugins: [rareDecor]
  });
})();

// legend for (b)
const legendRowsB = [99, 114, 129];
const legendColorsB = ['#3f55a5', '#ee2a2a', '#1b9a57'];
groupNames.forEach((name, gi) => {
  const cy = legendRowsB[gi], c = legendColorsB[gi];
  addDiv(`left:837px;top:${cy - 3}px;width:22px;height:6px;background:${c}`);
  addDiv(`left:868px;top:${cy - 5}px;width:10px;height:10px;border-radius:50%;background:${c}`);
  addDiv(`left:882px;top:${cy - 7}px;font-size:11.5px;line-height:14px;white-space:nowrap`, name);
});

// ---------- (c) rank abundance curves ----------
const curveColors = ['#3a58a8', '#e52a2f', '#1f9b5b'];
(function makeRankAbundance() {
  const cv = addCanvas(590, 403, 290, 279);
  const datasets = [];
  [sikaCurves, reeveCurves, hareCurves].forEach((curves, gi) => {
    curves.forEach(k => {
      const pts = [];
      for (let i = 0; i < k.length; i += 2) pts.push({ x: k[i], y: k[i + 1] });
      const endRank = k[k.length - 2];
      pts.push({ x: endRank, y: floorLevel }, { x: lastRank, y: floorLevel });
      datasets.push({ type: 'line', label: groupNames[gi], data: pts, borderColor: curveColors[gi],
                      borderWidth: 1.1, pointRadius: 0, tension: 0, fill: false, order: 3 - gi });
    });
  });
  const axisGrid = { drawOnChartArea: false, drawTicks: true, tickLength: 5, color: '#000', tickColor: '#000' };
  new Chart(cv, {
    type: 'scatter',
    data: { datasets },
    options: Object.assign({}, baseOptions, {
      layout: { padding: { top: 10, right: 12, left: 0, bottom: 0 } },
      scales: {
        x: {
          type: 'linear', min: -9, max: 257,
          afterBuildTicks: s => { s.ticks = [0, 50, 100, 150, 200, 250].map(v => ({ value: v })); },
          afterFit: s => { s.height = 30; },
          ticks: { font: { family: SANS, size: 16 }, color: '#000', padding: 5, maxRotation: 0, autoSkip: false },
          grid: axisGrid, border: { display: true, color: '#000', width: 1.2 }
        },
        y: {
          type: 'linear', min: -0.725, max: 15,
          afterBuildTicks: s => { s.ticks = [0, 5, 10, 15].map(v => ({ value: v })); },
          afterFit: s => { s.width = 43; },
          ticks: { font: { family: SANS, size: 16 }, color: '#000', padding: 6, autoSkip: false },
          grid: axisGrid, border: { display: true, color: '#000', width: 1.2 }
        }
      }
    })
  });
})();

// legend for (c)
const legendRowsC = [441.7, 461.7, 482.2];
groupNames.forEach((name, gi) => {
  const cy = legendRowsC[gi];
  addDiv(`left:837px;top:${cy - 1}px;width:20px;height:2px;background:${curveColors[gi]}`);
  addDiv(`left:864px;top:${cy - 9}px;font-size:14.5px;line-height:18px;white-space:nowrap`, name);
});
</script>
</body>
</html>
